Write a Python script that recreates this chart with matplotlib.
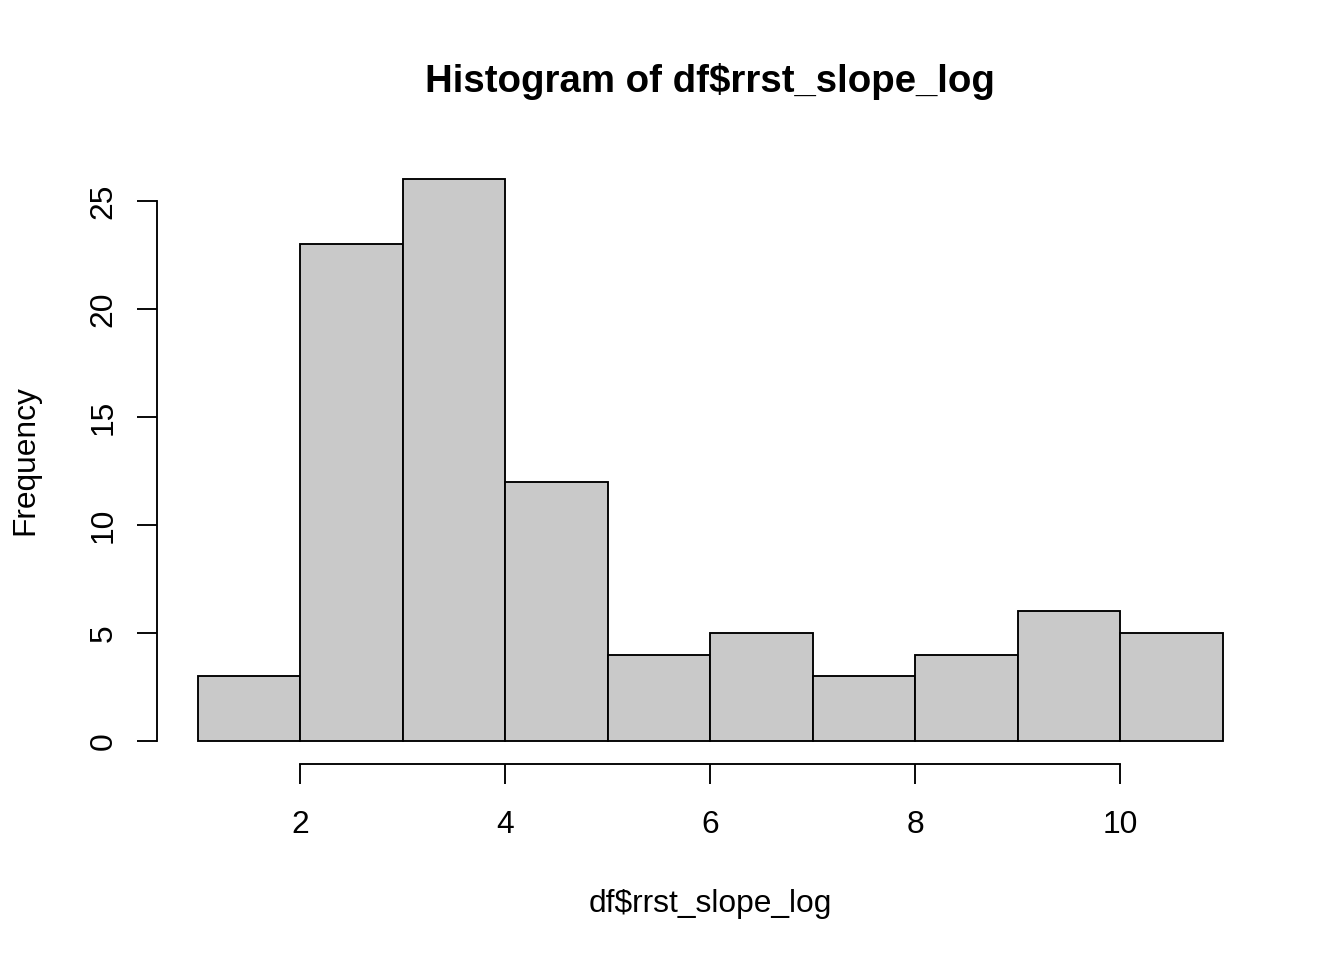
import matplotlib
matplotlib.use("Agg")
import matplotlib.pyplot as plt
import numpy as np

bin_edges = [1, 2, 3, 4, 5, 6, 7, 8, 9, 10, 11]
counts = [3, 23, 26, 12, 4, 5, 3, 4, 6, 5]
x_ticks = [2, 4, 6, 8, 10]
y_ticks = [0, 5, 10, 15, 20, 25]
title = "Histogram of df$rrst_slope_log"
xlabel = "df$rrst_slope_log"
ylabel = "Frequency"

plt.rcParams['font.family'] = ['Liberation Sans', 'DejaVu Sans']
DPI = 100
fig = plt.figure(figsize=(13.44, 9.6), dpi=DPI)
W, H = 1344, 960
left, right, top, bottom = 156.5, 1263.5, 157, 763.5
ax = fig.add_axes([left / W, 1 - bottom / H, (right - left) / W, (bottom - top) / H])

lw = 1.35
edges = np.array(bin_edges, dtype=float)
ax.bar(edges[:-1], counts, width=np.diff(edges), align='edge',
       color='#C9C9C9', edgecolor='black', linewidth=lw)

ax.set_xlim(0.6, 11.4)
ax.set_ylim(-1.04, 27.04)
for s in ['top', 'right']:
    ax.spines[s].set_visible(False)
ax.spines['left'].set_bounds(y_ticks[0], y_ticks[-1])
ax.spines['bottom'].set_bounds(x_ticks[0], x_ticks[-1])
for s in ['left', 'bottom']:
    ax.spines[s].set_linewidth(lw)

fs = 22.9
ax.set_xticks(x_ticks)
ax.set_xticklabels([str(v) for v in x_ticks], fontsize=fs)
ax.set_yticks(y_ticks)
ax.set_yticklabels([str(v) for v in y_ticks], fontsize=fs, rotation=90, va='center')
ax.tick_params(axis='both', direction='out', length=14.4, width=lw)
ax.tick_params(axis='x', pad=19)
ax.tick_params(axis='y', pad=13)

ax.set_xlabel(xlabel, fontsize=fs)
ax.xaxis.label.set_va('baseline')
ax.xaxis.set_label_coords(0.5, (bottom - 912) / (bottom - top))
ax.set_ylabel(ylabel, fontsize=fs)
ax.yaxis.label.set_va('center')
ax.yaxis.set_label_coords((25 - left) / (right - left), 0.5)

fig.text((left + right) / 2 / W, 1 - 92 / H, title, ha='center', va='baseline',
         fontsize=27.6, fontweight='bold')

fig.savefig('out.png', dpi=DPI)
